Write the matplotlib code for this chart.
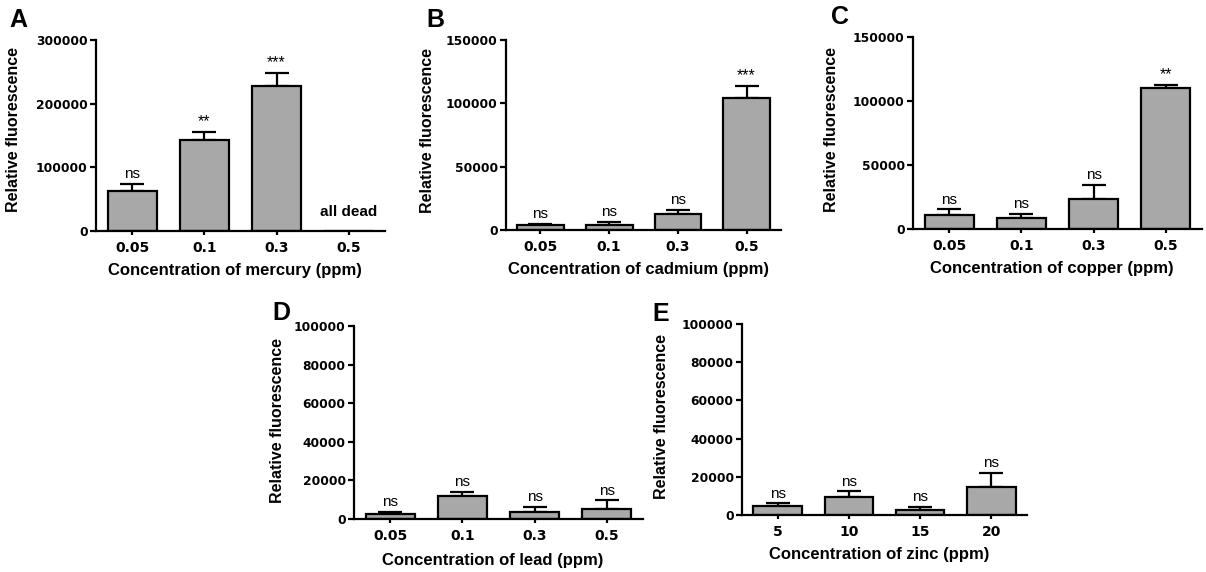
import matplotlib
matplotlib.use("Agg")
import matplotlib.pyplot as plt
import numpy as np

# ---------------- data ----------------
conc_metal = ["0.05", "0.1", "0.3", "0.5"]
conc_zinc = ["5", "10", "15", "20"]

hg_mean = [62800, 142400, 228200, np.nan]
hg_sem = [11000, 12600, 20000, np.nan]
hg_sig = ["ns", "**", "***", ""]

cd_mean = [4000, 3700, 12400, 104200]
cd_sem = [1000, 2600, 3400, 9200]
cd_sig = ["ns", "ns", "ns", "***"]

cu_mean = [10900, 8300, 23200, 110500]
cu_sem = [4500, 3600, 11400, 1800]
cu_sig = ["ns", "ns", "ns", "**"]

pb_mean = [2400, 11900, 3600, 5000]
pb_sem = [1200, 2100, 2800, 4700]
pb_sig = ["ns", "ns", "ns", "ns"]

zn_mean = [4700, 9400, 2500, 14500]
zn_sem = [1400, 3000, 1900, 7400]
zn_sig = ["ns", "ns", "ns", "ns"]

panels = [
    dict(letter="A", cats=conc_metal, mean=hg_mean, sem=hg_sem, sig=hg_sig,
         xlabel="Concentration of mercury (ppm)", ymax=300000, ystep=100000,
         box=(96, 40, 385, 231), letter_xy=(9, 8), ylab=(-0.26, 0.53), xlab_gap=32),
    dict(letter="B", cats=conc_metal, mean=cd_mean, sem=cd_sem, sig=cd_sig,
         xlabel="Concentration of cadmium (ppm)", ymax=150000, ystep=50000,
         box=(506, 40, 781, 230), letter_xy=(426, 8), ylab=(-0.258, 0.526), xlab_gap=32),
    dict(letter="C", cats=conc_metal, mean=cu_mean, sem=cu_sem, sig=cu_sig,
         xlabel="Concentration of copper (ppm)", ymax=150000, ystep=50000,
         box=(913, 37, 1202, 229), letter_xy=(831, 5), ylab=(-0.256, 0.52), xlab_gap=32),
    dict(letter="D", cats=conc_metal, mean=pb_mean, sem=pb_sem, sig=pb_sig,
         xlabel="Concentration of lead (ppm)", ymax=100000, ystep=20000,
         box=(354, 326, 643, 519), letter_xy=(272, 301), ylab=(-0.24, 0.508), xlab_gap=34),
    dict(letter="E", cats=conc_zinc, mean=zn_mean, sem=zn_sem, sig=zn_sig,
         xlabel="Concentration of zinc (ppm)", ymax=100000, ystep=20000,
         box=(742, 324, 1027, 515), letter_xy=(652, 302), ylab=(-0.255, 0.518), xlab_gap=32),
]

plt.rcParams["font.family"] = ["Liberation Sans", "DejaVu Sans"]
TICK_FONT = ["DejaVu Sans"]

W, H = 1206, 572
fig = plt.figure(figsize=(W / 100, H / 100), dpi=100)

BAR_COLOR = "#a8a8a8"
LW = 1.6

for p in panels:
    l, t, r, b = p["box"]
    ax = fig.add_axes([l / W, 1 - b / H, (r - l) / W, (b - t) / H])
    x = np.arange(len(p["cats"]))
    mean = np.array(p["mean"], dtype=float)
    sem = np.array(p["sem"], dtype=float)
    ax.bar(x, np.nan_to_num(mean), width=0.68, color=BAR_COLOR,
           edgecolor="black", linewidth=LW, zorder=2)
    ok = ~np.isnan(mean)
    ax.errorbar(x[ok], mean[ok], yerr=[np.zeros(ok.sum()), sem[ok]],
                fmt="none", ecolor="black", elinewidth=LW, capsize=8.5,
                capthick=LW, zorder=1)
    for xi, m, s, lab in zip(x, mean, sem, p["sig"]):
        if not lab or np.isnan(m):
            continue
        if lab == "ns":
            ax.annotate(lab, (xi, m + s), xytext=(0, 2), textcoords="offset points",
                        ha="center", va="bottom", fontsize=11)
        else:
            ax.annotate(lab, (xi, m + s), xytext=(0, 2), textcoords="offset points",
                        ha="center", va="bottom", fontsize=11.5)
    if p["letter"] == "A":
        ax.text(3, p["ymax"] * 0.1, "all dead", ha="center", va="center",
                fontsize=11, fontweight="bold")

    ax.set_xlim(-0.5, 3.5)
    ax.set_ylim(0, p["ymax"])
    yt = np.arange(0, p["ymax"] + 1, p["ystep"])
    ax.set_yticks(yt)
    ax.set_yticklabels([f"{int(v)}" for v in yt])
    ax.set_xticks(x)
    ax.set_xticklabels(p["cats"])
    for s in ["top", "right"]:
        ax.spines[s].set_visible(False)
    for s in ["left", "bottom"]:
        ax.spines[s].set_linewidth(LW)
    ax.tick_params(axis="y", direction="out", length=4, width=LW, pad=2)
    ax.tick_params(axis="x", direction="out", length=3, width=LW, pad=4)
    for lab in ax.get_yticklabels():
        lab.set_fontweight("bold")
        lab.set_family(TICK_FONT)
        lab.set_fontsize(8.8)
    for lab in ax.get_xticklabels():
        lab.set_fontweight("bold")
        lab.set_family(TICK_FONT)
        lab.set_fontsize(10)
    ax.set_xlabel(p["xlabel"], fontsize=12, fontweight="bold")
    ax.xaxis.set_label_coords(0.48, -p["xlab_gap"] / (b - t))
    ax.set_ylabel("Relative fluorescence", fontsize=11.5, fontweight="bold")
    ax.yaxis.set_label_coords(*p["ylab"])

    lx, ly = p["letter_xy"]
    fig.text(lx / W, 1 - ly / H, p["letter"], fontsize=18, fontweight="bold",
             ha="left", va="top")

fig.savefig("out.png", dpi=100)
